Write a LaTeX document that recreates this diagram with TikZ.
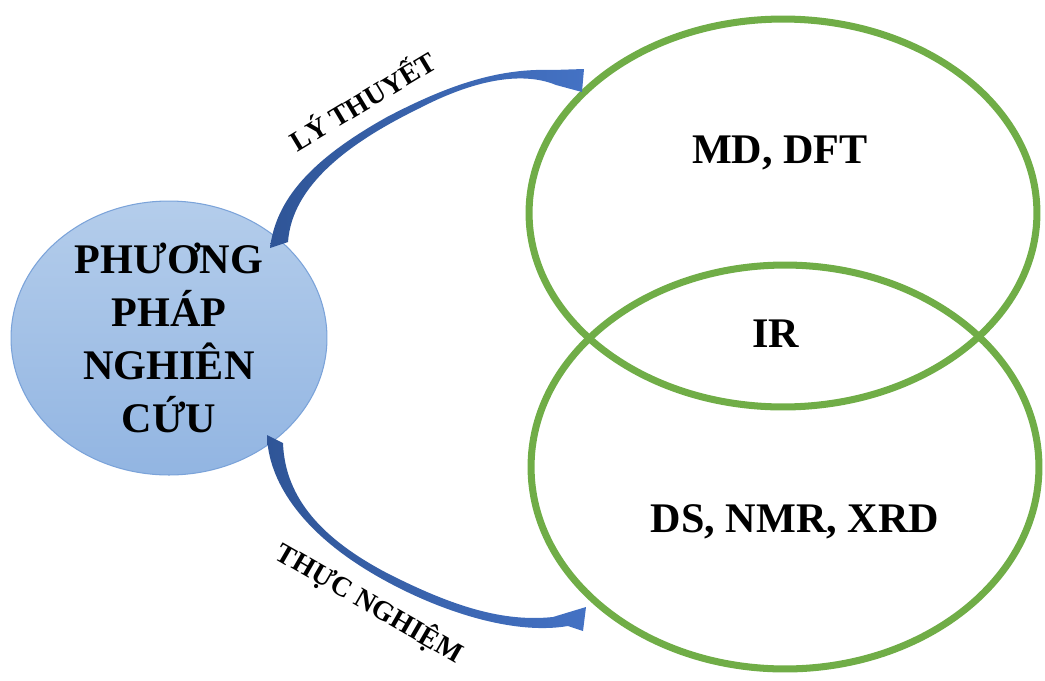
\documentclass[tikz,border=0pt]{standalone}
\usepackage{fontspec}
\setmainfont{Liberation Serif}
\usepackage{tikz}
\usetikzlibrary{shapes.geometric}
\definecolor{bubbletop}{HTML}{B4CDEB}
\definecolor{bubblebot}{HTML}{92B5E2}
\definecolor{bubbleline}{HTML}{7BA3D9}
\definecolor{setgreen}{HTML}{70AD47}
\definecolor{arrowdark}{HTML}{2F5597}
\definecolor{arrowlight}{HTML}{4472C4}

\begin{document}
\begin{tikzpicture}[x=0.02cm, y=0.02cm]
\tikzstyle{every node}+=[inner sep=0pt]
\tikzstyle{bigtext}=[font=\fontsize{24}{30.2}\selectfont\bfseries]
\tikzstyle{armtext}=[font=\fontsize{16}{19}\selectfont\bfseries, anchor=base]
\tikzstyle{setring}=[ellipse, draw=setgreen, line width=4pt, minimum width=10.16cm]
\useasboundingbox (0,0) rectangle (1045,-680);
\node [ellipse, top color=bubbletop, bottom color=bubblebot, draw=bubbleline, line width=0.6pt, minimum width=6.32cm, minimum height=5.48cm, align=center, bigtext] (method) at (169,-338) {PHƯƠNG\\PHÁP\\NGHIÊN\\CỨU};
\node [setring, minimum height=7.76cm] (theory) at (783,-213) {};
\node [setring, minimum height=8.08cm] (practice) at (785,-467) {};
\node [bigtext, anchor=base] (mddft) at (780,-163) {MD, DFT};
\node [bigtext, anchor=base] (ir) at (776,-347) {IR};
\node [bigtext, anchor=base] (dsnmr) at (795,-532) {DS, NMR, XRD};
\shade [left color=arrowdark, right color=arrowlight] (270,-248) .. controls (276,-200) and (310,-160) .. (387,-117) .. controls (450,-84) and (500,-68) .. (553,-70) -- (584,-69) -- (582,-92) -- (556,-85) .. controls (520,-70) and (470,-82) .. (420,-108) .. controls (350,-142) and (292,-185) .. (288,-242) -- cycle;
\shade [left color=arrowdark, right color=arrowlight] (267,-435) .. controls (268,-480) and (300,-530) .. (370,-572) .. controls (430,-608) and (510,-636) .. (568,-626) -- (583,-631) -- (586,-607) -- (553,-617) .. controls (505,-622) and (455,-608) .. (385,-572) .. controls (325,-540) and (285,-500) .. (283,-443) -- cycle;
\node [armtext, rotate=31] (theorylabel) at (368,-110) {LÝ THUYẾT};
\node [armtext, rotate=-30] (practicelabel) at (365,-611) {THỰC NGHIỆM};
\end{tikzpicture}
\end{document}
